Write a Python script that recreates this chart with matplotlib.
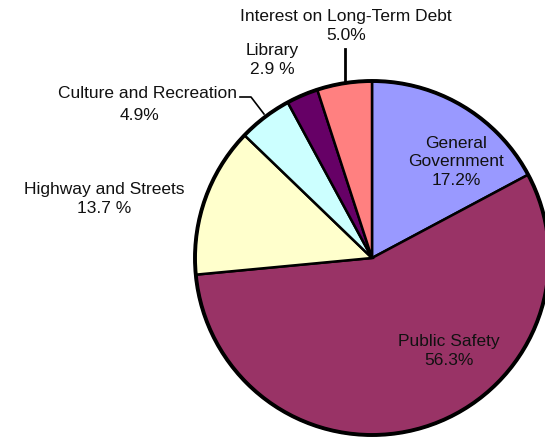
import matplotlib
matplotlib.use("Agg")
import matplotlib.pyplot as plt
from matplotlib.patches import Circle

categories = ["General Government", "Public Safety", "Highway and Streets",
              "Culture and Recreation", "Library", "Interest on Long-Term Debt"]
values = [17.2, 56.3, 13.7, 4.9, 2.9, 5.0]
colors = ["#9999FF", "#993366", "#FFFFCC", "#CCFFFF", "#660066", "#FF8080"]

plt.rcParams['font.family'] = ['Liberation Sans', 'DejaVu Sans']

fig = plt.figure(figsize=(5.45, 4.37), dpi=100)
ax = fig.add_axes([0, 0, 1, 1])
ax.set_xlim(0, 545)
ax.set_ylim(0, 437)
ax.set_aspect('equal')
ax.axis('off')

cx, cy, r = 372, 437 - 258, 177
wedges, _ = ax.pie(values, colors=colors, startangle=90, counterclock=False,
                   center=(cx, cy), radius=r,
                   wedgeprops=dict(edgecolor='black', linewidth=1.8))
ax.add_patch(Circle((cx, cy), r, fill=False, edgecolor='black', linewidth=2.8))
ax.set_xlim(0, 545)
ax.set_ylim(0, 437)

fs = 12.5
def T(x, y, s):
    ax.text(x, 437 - y, s, ha='center', va='center', fontsize=fs,
            color='#111111', linespacing=1.3)

gg = categories[0].split()
T(456, 162, f"{gg[0]}\n{gg[1]}\n{values[0]:.1f}%")
T(449, 351, f"{categories[1]}\n{values[1]:.1f}%")
T(104, 199, f"{categories[2]}\n{values[2]:.1f} %")
ax.text(237, 437 - 94, categories[3], ha='right', va='center', fontsize=fs, color='#111111')
T(140, 116, f"{values[3]:.1f}%")
T(272, 60, f"{categories[4]}\n{values[4]:.1f} %")
T(346, 26, f"{categories[5]}\n{values[5]:.1f}%")

# leader lines
ax.plot([240, 251, 264], [437 - 97, 437 - 97, 437 - 114], color='black', lw=1.2)
ax.plot([345, 345], [437 - 49, 437 - 81], color='black', lw=2)

fig.savefig("out.png", dpi=100)
